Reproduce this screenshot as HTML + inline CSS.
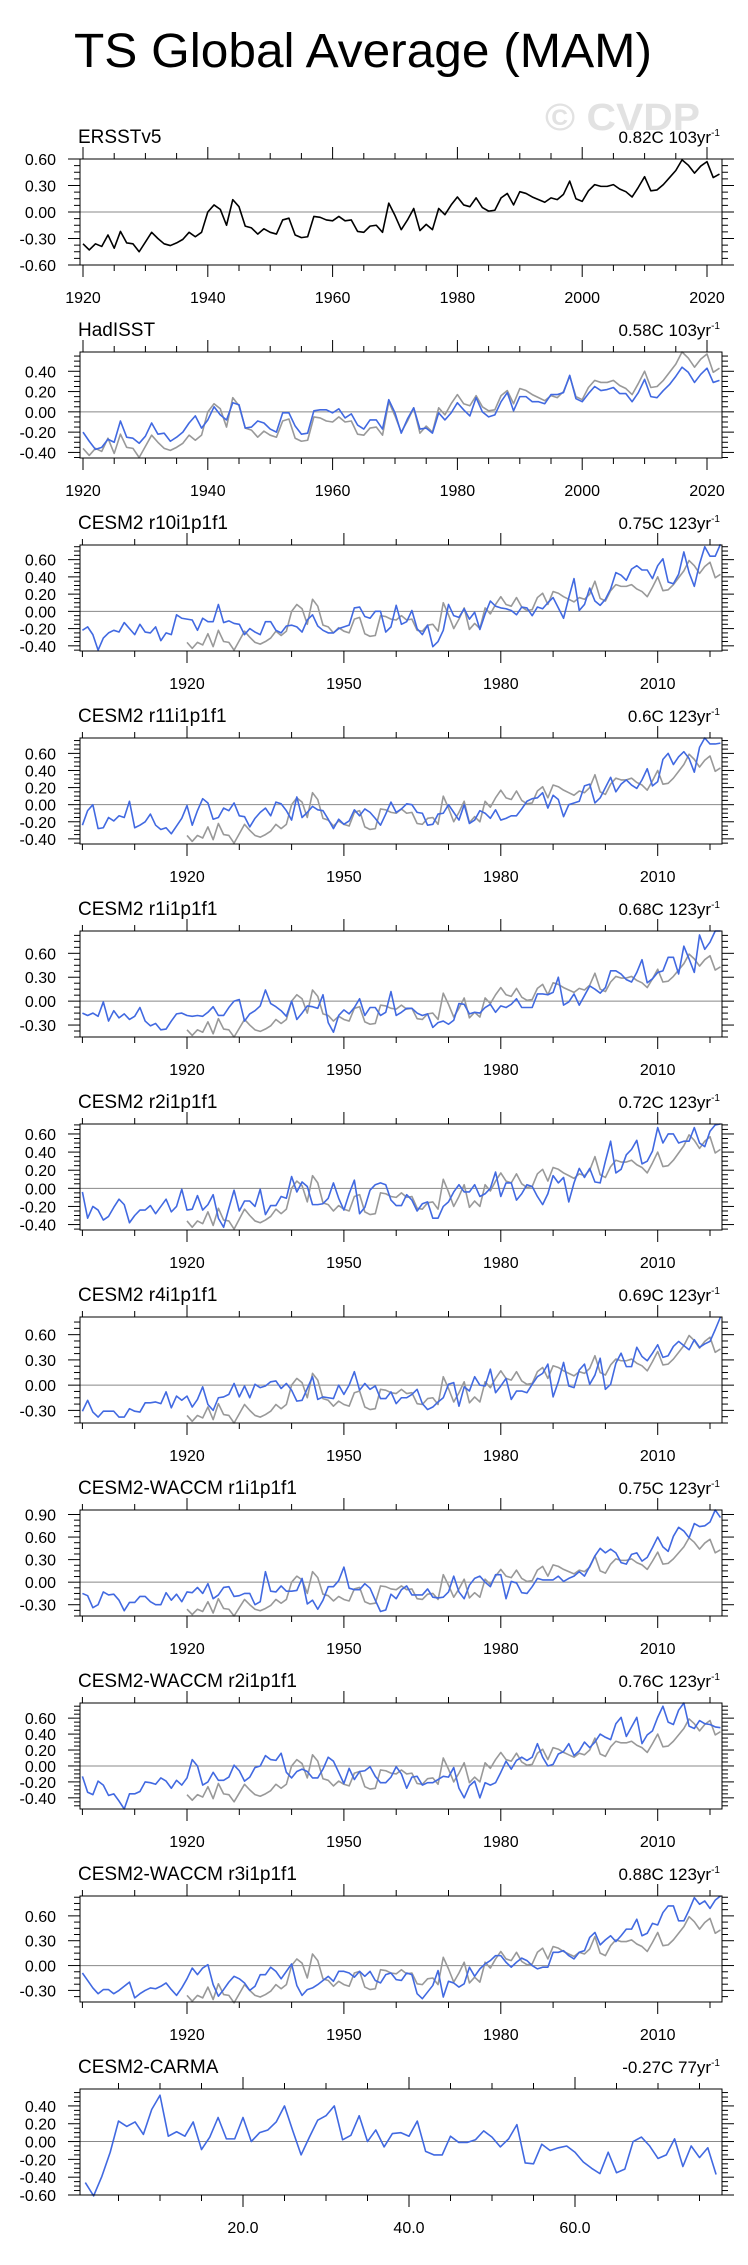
<!DOCTYPE html>
<html><head><meta charset="utf-8"><title>TS Global Average (MAM)</title>
<style>
html,body{margin:0;padding:0;background:#fff;}
svg{display:block;font-family:"Liberation Sans",sans-serif;}
</style></head>
<body>
<svg id="chart" width="748" height="2265" viewBox="0 0 748 2265" xmlns="http://www.w3.org/2000/svg">
<text x="74" y="67" font-size="48" textLength="578" lengthAdjust="spacingAndGlyphs">TS Global Average (MAM)</text>
<text x="545" y="130" font-size="38" font-weight="bold" fill="#e2e2e2" textLength="155" lengthAdjust="spacingAndGlyphs">© CVDP</text>
</svg>
<script>
const obsYears0 = 1920;
const modelYears0 = 1900;
const ersst = [-0.36,-0.43,-0.36,-0.39,-0.26,-0.41,-0.22,-0.35,-0.36,-0.45,-0.34,-0.23,-0.30,-0.36,-0.38,-0.35,-0.31,-0.23,-0.28,-0.23,0.00,0.08,0.03,-0.15,0.14,0.06,-0.16,-0.18,-0.25,-0.19,-0.23,-0.25,-0.09,-0.07,-0.26,-0.29,-0.28,-0.05,-0.06,-0.09,-0.10,-0.05,-0.10,-0.09,-0.22,-0.23,-0.16,-0.15,-0.23,0.10,-0.04,-0.20,-0.09,0.04,-0.21,-0.14,-0.20,0.04,-0.03,0.08,0.17,0.08,0.06,0.16,0.05,0.01,0.02,0.16,0.21,0.08,0.23,0.21,0.17,0.14,0.11,0.16,0.14,0.20,0.35,0.15,0.12,0.24,0.31,0.29,0.29,0.31,0.26,0.23,0.17,0.28,0.40,0.24,0.25,0.31,0.39,0.47,0.59,0.53,0.44,0.52,0.57,0.39,0.43];
const hadisst = [-0.20,-0.29,-0.37,-0.35,-0.27,-0.30,-0.09,-0.25,-0.26,-0.31,-0.24,-0.11,-0.22,-0.21,-0.29,-0.25,-0.20,-0.11,-0.04,-0.16,-0.08,0.05,-0.03,-0.08,0.09,0.07,-0.16,-0.15,-0.09,-0.11,-0.17,-0.20,-0.01,-0.01,-0.14,-0.22,-0.21,0.01,0.02,0.02,-0.01,0.03,-0.06,-0.02,-0.13,-0.17,-0.08,-0.08,-0.17,0.12,-0.01,-0.21,-0.07,0.04,-0.17,-0.16,-0.21,-0.01,-0.08,-0.01,0.09,0.02,-0.04,0.14,0.00,-0.05,-0.03,0.10,0.19,0.01,0.15,0.15,0.10,0.10,0.08,0.17,0.17,0.19,0.36,0.13,0.10,0.18,0.25,0.21,0.22,0.24,0.18,0.18,0.10,0.19,0.32,0.15,0.14,0.21,0.27,0.35,0.44,0.39,0.29,0.37,0.43,0.29,0.31];
const r10 = [-0.22,-0.18,-0.27,-0.45,-0.31,-0.25,-0.22,-0.24,-0.13,-0.20,-0.27,-0.15,-0.24,-0.25,-0.18,-0.34,-0.25,-0.27,-0.04,-0.08,-0.09,-0.10,-0.22,-0.08,-0.12,-0.12,0.08,-0.13,-0.11,-0.14,-0.15,-0.27,-0.20,-0.24,-0.27,-0.12,-0.12,-0.22,-0.25,-0.17,-0.16,-0.18,-0.24,-0.10,-0.04,-0.17,-0.22,-0.25,-0.25,-0.20,-0.18,-0.16,0.04,0.05,-0.06,-0.08,0.00,0.00,-0.24,-0.18,0.07,-0.15,-0.12,0.01,-0.20,-0.27,-0.16,-0.41,-0.35,-0.22,0.08,-0.05,-0.07,0.03,-0.09,-0.01,-0.21,-0.03,0.12,0.06,0.04,0.03,0.01,-0.04,0.05,0.04,-0.05,0.05,0.03,0.10,0.16,0.04,-0.08,0.16,0.38,0.01,0.08,0.27,0.12,0.07,0.14,0.26,0.45,0.42,0.36,0.49,0.53,0.48,0.48,0.38,0.53,0.61,0.34,0.32,0.43,0.69,0.45,0.29,0.55,0.75,0.64,0.64,0.78];
const r11 = [-0.24,-0.07,0.00,-0.28,-0.27,-0.15,-0.19,-0.13,-0.15,0.04,-0.27,-0.24,-0.20,-0.11,-0.24,-0.29,-0.27,-0.34,-0.25,-0.16,-0.01,-0.24,-0.07,0.07,0.02,-0.17,-0.15,-0.04,-0.07,0.02,-0.13,-0.14,-0.26,-0.16,-0.09,-0.04,-0.13,0.03,0.01,-0.07,-0.18,0.09,-0.15,-0.09,-0.02,-0.06,-0.07,-0.17,-0.28,-0.17,-0.23,-0.19,-0.06,-0.13,-0.05,-0.09,-0.16,-0.24,-0.11,0.03,-0.09,-0.05,0.01,0.00,-0.09,-0.10,-0.24,-0.23,-0.11,-0.10,0.00,-0.09,-0.18,0.00,-0.22,-0.18,-0.07,-0.10,-0.16,-0.06,-0.18,-0.16,-0.13,-0.13,-0.05,0.04,0.07,0.08,0.14,-0.04,0.11,0.06,-0.14,0.00,0.02,0.04,0.22,0.24,0.02,0.08,0.20,0.32,0.15,0.24,0.29,0.23,0.19,0.29,0.42,0.22,0.27,0.53,0.60,0.47,0.56,0.62,0.54,0.38,0.67,0.78,0.71,0.71,0.72];
const r1 = [-0.15,-0.18,-0.15,-0.19,-0.01,-0.25,-0.12,-0.21,-0.16,-0.23,-0.19,-0.08,-0.25,-0.31,-0.28,-0.36,-0.35,-0.25,-0.16,-0.15,-0.18,-0.19,-0.18,-0.19,-0.14,-0.07,-0.18,-0.18,-0.08,0.00,0.02,-0.25,-0.16,-0.12,-0.06,0.14,-0.03,-0.07,-0.12,-0.19,0.00,-0.23,-0.15,-0.06,-0.07,-0.09,0.08,-0.27,-0.39,-0.18,-0.11,-0.16,-0.08,0.03,-0.18,-0.08,-0.08,-0.18,-0.14,0.12,-0.18,-0.14,-0.09,-0.09,-0.15,-0.18,-0.16,-0.33,-0.27,-0.25,-0.29,-0.24,-0.03,-0.04,-0.16,-0.14,-0.15,-0.08,-0.04,-0.14,-0.06,-0.08,-0.04,0.03,-0.08,-0.08,-0.08,0.09,0.09,0.08,0.11,0.30,-0.05,-0.01,0.09,-0.05,0.07,0.19,0.15,0.10,0.17,0.38,0.38,0.34,0.27,0.24,0.36,0.52,0.23,0.28,0.36,0.38,0.55,0.55,0.34,0.69,0.53,0.36,0.83,0.65,0.74,0.88,0.88];
const r2 = [-0.04,-0.33,-0.20,-0.24,-0.35,-0.31,-0.21,-0.12,-0.18,-0.38,-0.30,-0.24,-0.24,-0.19,-0.28,-0.20,-0.12,-0.26,-0.20,-0.01,-0.24,-0.23,-0.08,-0.24,-0.18,-0.07,-0.33,-0.43,-0.22,-0.02,-0.25,-0.14,-0.14,-0.20,-0.01,-0.29,-0.19,-0.19,-0.09,-0.11,0.13,-0.04,0.07,0.02,-0.18,-0.18,-0.17,-0.11,0.06,-0.11,-0.24,-0.06,0.09,-0.28,-0.21,-0.02,0.04,0.06,0.04,-0.13,-0.19,-0.19,-0.07,-0.13,-0.25,-0.17,-0.15,-0.33,-0.33,-0.20,-0.15,-0.04,0.04,-0.04,-0.04,0.04,-0.09,-0.06,0.00,0.18,-0.09,0.06,0.06,-0.13,-0.06,0.04,0.02,-0.09,-0.18,-0.06,0.14,0.06,0.12,-0.15,0.06,0.22,0.12,0.22,0.07,0.06,0.30,0.52,0.17,0.21,0.37,0.43,0.53,0.27,0.30,0.41,0.67,0.50,0.60,0.60,0.50,0.52,0.52,0.67,0.50,0.46,0.63,0.70,0.71];
const r4 = [-0.31,-0.18,-0.32,-0.38,-0.31,-0.31,-0.31,-0.38,-0.38,-0.28,-0.31,-0.32,-0.21,-0.21,-0.20,-0.22,-0.08,-0.27,-0.13,-0.18,-0.13,-0.26,-0.17,-0.02,-0.23,-0.30,-0.15,-0.14,-0.11,0.02,-0.14,-0.01,-0.15,0.01,-0.03,-0.01,0.04,0.05,-0.04,0.02,-0.06,-0.19,-0.18,-0.04,0.10,-0.17,-0.14,-0.15,-0.16,0.00,-0.11,0.00,0.16,-0.06,0.02,-0.05,-0.01,-0.16,-0.16,-0.08,-0.22,-0.15,-0.15,-0.11,-0.05,-0.22,-0.29,-0.26,-0.20,-0.15,0.01,0.03,-0.25,-0.02,-0.07,0.10,0.00,-0.01,0.19,-0.09,-0.01,0.08,-0.17,-0.07,-0.07,-0.09,0.01,0.10,0.14,0.25,-0.14,0.04,0.27,-0.01,-0.03,0.18,0.25,0.01,0.12,0.32,-0.05,0.01,0.26,0.38,0.22,0.22,0.45,0.34,0.29,0.38,0.48,0.33,0.35,0.46,0.52,0.47,0.42,0.54,0.45,0.49,0.52,0.66,0.81];
const wr1 = [-0.15,-0.18,-0.34,-0.30,-0.13,-0.17,-0.16,-0.24,-0.38,-0.27,-0.27,-0.19,-0.19,-0.26,-0.30,-0.30,-0.14,-0.24,-0.16,-0.26,-0.13,-0.14,-0.07,-0.15,-0.02,-0.22,-0.17,-0.07,-0.06,-0.19,-0.18,-0.15,-0.15,-0.30,-0.26,0.14,-0.12,-0.13,-0.05,-0.12,-0.12,-0.11,0.05,-0.29,-0.24,-0.36,-0.24,-0.06,-0.06,0.02,0.20,-0.08,-0.10,-0.10,-0.02,-0.08,-0.24,-0.39,-0.37,-0.16,-0.22,-0.10,-0.05,-0.17,-0.17,-0.17,-0.09,-0.20,-0.21,-0.20,-0.13,0.08,-0.13,-0.22,-0.04,0.05,0.08,0.00,-0.06,0.10,0.10,-0.22,0.01,-0.01,-0.14,-0.15,-0.06,0.05,0.03,0.03,0.03,0.08,0.01,0.05,0.08,0.14,0.08,0.21,0.35,0.45,0.39,0.44,0.39,0.26,0.24,0.37,0.39,0.28,0.33,0.46,0.60,0.47,0.41,0.61,0.73,0.68,0.59,0.78,0.74,0.75,0.80,0.96,0.86];
const wr2 = [-0.13,-0.33,-0.36,-0.19,-0.24,-0.37,-0.35,-0.44,-0.54,-0.35,-0.35,-0.32,-0.20,-0.21,-0.23,-0.15,-0.19,-0.28,-0.18,-0.24,-0.15,0.08,0.00,-0.24,-0.20,-0.08,-0.18,-0.18,-0.14,0.01,-0.06,-0.19,-0.14,-0.02,0.00,0.13,0.08,0.07,0.16,-0.08,-0.15,-0.07,-0.04,-0.07,-0.15,-0.15,-0.04,0.11,0.06,-0.08,-0.22,-0.03,-0.17,-0.07,-0.06,-0.01,-0.13,-0.21,-0.21,-0.14,-0.01,-0.10,-0.28,-0.14,-0.13,-0.24,-0.21,-0.21,-0.17,-0.13,-0.14,-0.02,-0.28,-0.40,-0.25,-0.19,-0.40,-0.21,-0.24,-0.21,-0.08,0.06,-0.04,0.07,0.11,0.07,0.11,0.28,0.11,0.00,0.02,0.15,0.18,0.28,0.13,0.19,0.30,0.23,0.30,0.40,0.36,0.33,0.53,0.61,0.37,0.49,0.61,0.28,0.39,0.44,0.61,0.75,0.55,0.52,0.70,0.79,0.50,0.47,0.57,0.53,0.52,0.49,0.48];
const wr3 = [-0.09,-0.18,-0.27,-0.34,-0.29,-0.29,-0.34,-0.30,-0.25,-0.20,-0.39,-0.34,-0.30,-0.27,-0.28,-0.25,-0.21,-0.29,-0.36,-0.27,-0.16,-0.03,-0.11,-0.03,0.01,-0.23,-0.37,-0.29,-0.20,-0.13,-0.16,-0.21,-0.30,-0.25,-0.11,-0.11,-0.02,-0.07,-0.16,-0.07,0.02,-0.24,-0.36,-0.29,-0.27,-0.23,-0.18,-0.13,-0.19,-0.07,-0.07,-0.09,-0.14,-0.07,-0.13,-0.07,-0.18,-0.21,-0.11,-0.09,-0.17,-0.18,-0.09,-0.11,-0.34,-0.40,-0.32,-0.24,-0.06,-0.38,-0.19,-0.21,-0.26,-0.22,-0.02,-0.13,-0.04,0.02,0.06,0.12,0.12,0.04,-0.02,0.04,0.09,0.06,0.00,-0.04,-0.02,-0.02,0.16,0.16,0.18,0.12,0.08,0.16,0.18,0.34,0.40,0.25,0.31,0.36,0.29,0.36,0.44,0.44,0.56,0.36,0.39,0.51,0.49,0.64,0.72,0.72,0.54,0.54,0.67,0.82,0.74,0.78,0.69,0.79,0.84];
const carma = [-0.46,-0.61,-0.39,-0.12,0.23,0.17,0.22,0.08,0.36,0.52,0.06,0.11,0.06,0.22,-0.09,0.05,0.27,0.03,0.03,0.27,0.00,0.10,0.13,0.22,0.40,0.12,-0.15,0.05,0.24,0.29,0.40,0.02,0.07,0.29,0.00,0.13,-0.06,0.09,0.10,0.06,0.23,-0.11,-0.15,-0.15,0.06,-0.01,-0.01,0.02,0.12,0.05,-0.06,0.03,0.19,-0.24,-0.25,-0.03,-0.10,-0.07,-0.05,-0.12,-0.23,-0.30,-0.36,-0.12,-0.35,-0.31,0.00,0.05,-0.05,-0.19,-0.15,0.03,-0.28,-0.05,-0.18,-0.07,-0.37];
const panelTitles = ["ERSSTv5","HadISST","CESM2 r10i1p1f1","CESM2 r11i1p1f1","CESM2 r1i1p1f1","CESM2 r2i1p1f1","CESM2 r4i1p1f1","CESM2-WACCM r1i1p1f1","CESM2-WACCM r2i1p1f1","CESM2-WACCM r3i1p1f1","CESM2-CARMA"];
const trendValues = ["0.82C 103yr","0.58C 103yr","0.75C 123yr","0.6C 123yr","0.68C 123yr","0.72C 123yr","0.69C 123yr","0.75C 123yr","0.76C 123yr","0.88C 123yr","-0.27C 77yr"];
const yTickLabels = [
 ["-0.60","-0.30","0.00","0.30","0.60"],
 ["-0.40","-0.20","0.00","0.20","0.40"],
 ["-0.40","-0.20","0.00","0.20","0.40","0.60"],
 ["-0.40","-0.20","0.00","0.20","0.40","0.60"],
 ["-0.30","0.00","0.30","0.60"],
 ["-0.40","-0.20","0.00","0.20","0.40","0.60"],
 ["-0.30","0.00","0.30","0.60"],
 ["-0.30","0.00","0.30","0.60","0.90"],
 ["-0.40","-0.20","0.00","0.20","0.40","0.60"],
 ["-0.30","0.00","0.30","0.60"],
 ["-0.60","-0.40","-0.20","0.00","0.20","0.40"]];
const yMins = [-0.6,-0.455,-0.46,-0.46,-0.45,-0.46,-0.45,-0.45,-0.54,-0.44,-0.6];
const yMaxs = [0.6,0.59,0.77,0.78,0.88,0.71,0.81,0.96,0.79,0.84,0.59];
const obsXTicks = ["1920","1940","1960","1980","2000","2020"];
const modelXTicks = ["1920","1950","1980","2010"];
const carmaXTicks = ["20.0","40.0","60.0"];
const modelSeries = [r10,r11,r1,r2,r4,wr1,wr2,wr3];

const NS="http://www.w3.org/2000/svg";
const svg=document.getElementById('chart');
const L=80,R=722,H=106;
function mk(tag,attrs,parent){const e=document.createElementNS(NS,tag);for(const k in attrs)e.setAttribute(k,attrs[k]);(parent||svg).appendChild(e);return e;}

function drawPanel(i){
  const T=159+193*i,B=T+H;
  const g=mk('g',{});
  
  
  const ymin=yMins[i],ymax=yMaxs[i];
  const y=v=>B-(v-ymin)/(ymax-ymin)*H;
  let xs,ticksMaj,ticksMin,labels;
  if(i<2){xs=v=>83+(v-1920)*6.24;labels=obsXTicks;ticksMaj=labels.map(Number);ticksMin=[];for(let v=1920;v<=2020;v+=5)ticksMin.push(v);}
  else if(i<10){xs=v=>187+(v-1920)*5.23;labels=modelXTicks;ticksMaj=labels.map(Number);ticksMin=[];for(let v=1900;v<=2020;v+=10)ticksMin.push(v);}
  else{xs=v=>243+(v-20)*8.3;labels=carmaXTicks;ticksMaj=labels.map(Number);ticksMin=[];for(let v=5;v<=75;v+=5)ticksMin.push(v);}
  // titles
  const t=mk('text',{x:78,y:T-16,'font-size':19},g);t.textContent=panelTitles[i];
  
  
  const tr=mk('text',{x:R-2,y:T-16,'font-size':17,'text-anchor':'end'},g);
  
  
  tr.appendChild(document.createTextNode(trendValues[i]));
  const sup=mk('tspan',{dy:-7,'font-size':10},tr);sup.textContent='-1';
  // y ticks
  const labs=yTickLabels[i];const vals=labs.map(Number);const step=vals[1]-vals[0];
  for(let v=vals[0]-step;v<=ymax+1e-9;v+=step/4){
    if(v<ymin-1e-9)continue;
    const isMaj=vals.some(m=>Math.abs(m-v)<1e-6);const len=isMaj?12:6;
    mk('line',{x1:L-len,x2:L,y1:y(v),y2:y(v),stroke:'#000','stroke-width':1},g);
    mk('line',{x1:R,x2:R+len,y1:y(v),y2:y(v),stroke:'#000','stroke-width':1},g);
  }
  labs.forEach((s,k)=>{const e=mk('text',{x:56,y:y(vals[k])+6,'font-size':16,'text-anchor':'end'},g);e.textContent=s;
    
    });
  // x ticks
  ticksMin.forEach(v=>{const X=xs(v);if(X<L-0.5||X>R+0.5)return;const maj=ticksMaj.includes(v);const len=maj?12:6;
    mk('line',{x1:X,x2:X,y1:T-len,y2:T,stroke:'#000','stroke-width':1},g);
    mk('line',{x1:X,x2:X,y1:B,y2:B+len,stroke:'#000','stroke-width':1},g);});
  labels.forEach(s=>{const e=mk('text',{x:xs(Number(s)),y:B+38,'font-size':16,'text-anchor':'middle'},g);e.textContent=s;
    
    });
  // zero line
  const z=mk('line',{x1:L,x2:R,y1:y(0),y2:y(0),stroke:'#888','stroke-width':1},g);
  
  
  function series(arr,x0,color,name){
    const p=arr.map((v,k)=>xs(x0+k).toFixed(2)+','+y(v).toFixed(2)).join(' ');
    const pl=mk('polyline',{points:p,fill:'none',stroke:color,'stroke-width':1.6,'stroke-linejoin':'round'},g);
    
    
  }
  if(i===0)series(ersst,obsYears0,'#000','ersst-line');
  else if(i===1){series(ersst,obsYears0,'#999','ersst-reference-line');series(hadisst,obsYears0,'#4169e1','hadisst-line');}
  else if(i<10){series(ersst,obsYears0,'#999','ersst-reference-line');series(modelSeries[i-2],modelYears0,'#4169e1','model-line');}
  else series(carma,1,'#4169e1','carma-line');
  const box=mk('rect',{x:L,y:T,width:R-L,height:H,fill:'none',stroke:'#000','stroke-width':1},g);
  
  
}
for(let i=0;i<11;i++)drawPanel(i);
</script>
</body></html>
